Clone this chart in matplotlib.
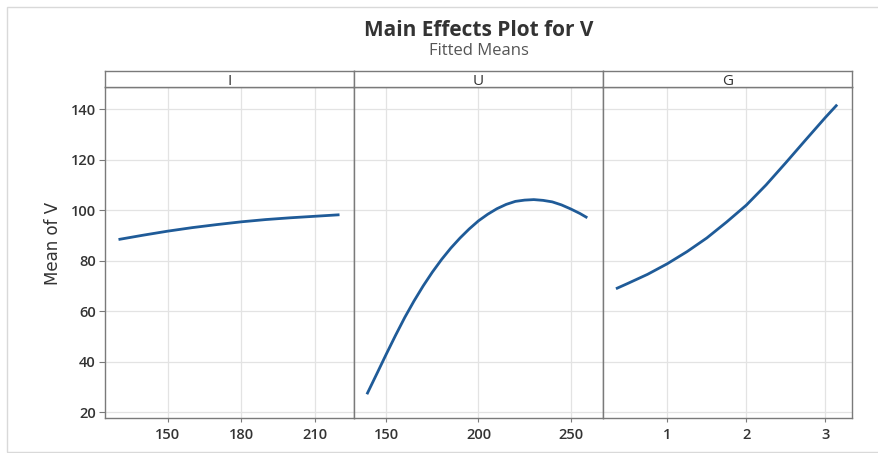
import matplotlib
matplotlib.use("Agg")
import matplotlib.pyplot as plt
from matplotlib.patches import Rectangle

# fitted means
i_vals = [130, 140, 150, 160, 170, 180, 190, 200, 210, 220]
i_means = [88.4, 90.1, 91.7, 93.1, 94.3, 95.4, 96.3, 97.0, 97.6, 98.2]

u_vals = [139.5, 145, 150, 155, 160, 165, 170, 175, 180, 185, 190, 195, 200,
          205, 210, 215, 220, 225, 230, 235, 240, 245, 250, 255, 259]
u_means = [27.1, 35.4, 43.0, 50.4, 57.5, 64.0, 70.0, 75.5, 80.5, 85.0, 89.0, 92.6, 95.8,
           98.4, 100.6, 102.3, 103.5, 104.0, 104.2, 103.9, 103.3, 102.1, 100.5, 98.7, 97.0]

g_vals = [0.35, 0.5, 0.75, 1.0, 1.25, 1.5, 1.75, 2.0, 2.25, 2.5, 2.75, 3.0, 3.15]
g_means = [68.9, 71.0, 74.6, 78.8, 83.6, 89.0, 95.3, 102.0, 110.0, 118.8, 127.8, 136.7, 141.8]

panel_names = ["I", "U", "G"]
y_ticks = [20, 40, 60, 80, 100, 120, 140]
x_ticks = [[150, 180, 210], [150, 200, 250], [1, 2, 3]]
x_limits = [(124.5, 225.9), (132.5, 267.5), (0.186, 3.338)]
y_limits = (17.7, 148.8)

W, H = 879, 453
line_col = "#1f5b98"
frame_col = "#7a7a7a"
grid_col = "#e3e3e3"
text_col = "#333333"
font = "Open Sans"

fig = plt.figure(figsize=(W / 100, H / 100), dpi=100)
fig.patch.set_facecolor("white")

# faint outer border of the graph window
fig.add_artist(Rectangle((7 / W, 1 / H), 1.05, 1 - 8 / H, transform=fig.transFigure,
                         fill=False, edgecolor="#d9d9d9", lw=1.0))

def px_box(x0, y0, x1, y1):
    return [x0 / W, 1 - y1 / H, (x1 - x0) / W, (y1 - y0) / H]

edges = [105, 354, 603, 852]
series = [(i_vals, i_means), (u_vals, u_means), (g_vals, g_means)]

for k in range(3):
    ax = fig.add_axes(px_box(edges[k], 87, edges[k + 1], 418))
    xs, ys = series[k]
    ax.plot(xs, ys, color=line_col, lw=2.0, solid_capstyle="butt", zorder=3)
    ax.set_xlim(*x_limits[k])
    ax.set_ylim(*y_limits)
    ax.set_xticks(x_ticks[k])
    ax.set_yticks(y_ticks)
    ax.grid(True, color=grid_col, lw=0.9)
    ax.set_axisbelow(True)
    for s in ax.spines.values():
        s.set_color(frame_col)
        s.set_linewidth(1.0)
    ax.tick_params(axis="x", length=3, width=0.8, color=frame_col, pad=4,
                   labelsize=10.5, labelcolor=text_col)
    if k == 0:
        ax.tick_params(axis="y", length=4, width=0.8, color=frame_col, pad=2.5,
                       labelsize=10.5, labelcolor=text_col)
        ax.set_ylabel("Mean of V", fontsize=12, color=text_col, family="Liberation Sans Narrow")
        ax.yaxis.set_label_coords((62 - 105) / 249, (418 - 243) / 331)
    else:
        ax.tick_params(axis="y", left=False, labelleft=False)
    for lab in ax.get_xticklabels() + ax.get_yticklabels():
        lab.set_family(font)
        lab.set_fontweight("semibold")

    # facet strip
    sax = fig.add_axes(px_box(edges[k], 71, edges[k + 1], 87))
    sax.set_xticks([])
    sax.set_yticks([])
    sax.set_facecolor("white")
    for s in sax.spines.values():
        s.set_color(frame_col)
        s.set_linewidth(1.0)
    sax.text(0.5, 0.36, panel_names[k], ha="center", va="center", fontsize=11,
             color=text_col, family=font, transform=sax.transAxes)

cx = (105 + 852) / 2 / W
fig.text(cx, 1 - 31 / H, "Main Effects Plot for V", ha="center", va="center",
         fontsize=15, fontweight="bold", color=text_col, family=font)
fig.text(cx, 1 - 51 / H, "Fitted Means", ha="center", va="center",
         fontsize=12, color="#555555", family=font)

fig.savefig("out.png", dpi=100)
